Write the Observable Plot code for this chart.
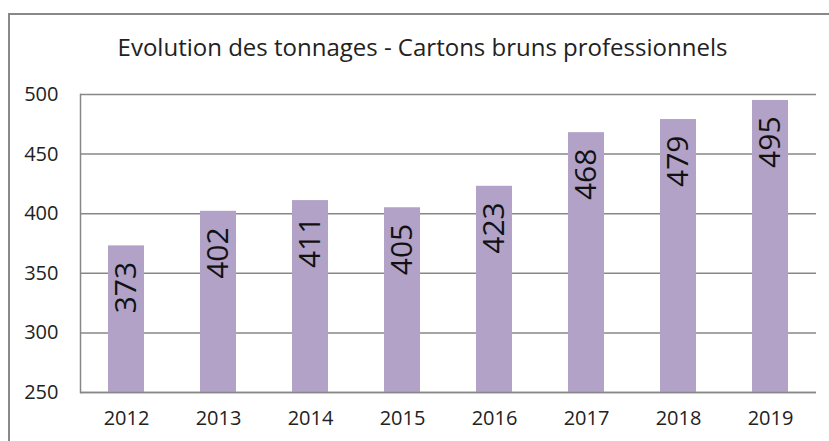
<!DOCTYPE html>
<html><head><meta charset="utf-8">
<script src="https://cdn.jsdelivr.net/npm/d3@7"></script>
<script src="https://cdn.jsdelivr.net/npm/@observablehq/plot@0.6"></script>
<style>
body{margin:0;background:#fff;font-family:"Open Sans",sans-serif;}
#frame{position:absolute;left:8px;top:13px;width:840px;height:460px;border-left:2px solid #888;border-top:2px solid #888;box-sizing:border-box;}
#title{position:absolute;left:0;top:30px;width:845px;text-align:center;font-size:24px;color:#222;}
#chart{position:absolute;left:0;top:80px;}
</style></head>
<body>
<div id="frame"></div>
<div id="title">Evolution des tonnages - Cartons bruns professionnels</div>
<div id="chart"></div>
<script>
const years = ["2012","2013","2014","2015","2016","2017","2018","2019"];
const tonnages = [373, 402, 411, 405, 423, 468, 479, 495];
const yTicks = [250, 300, 350, 400, 450, 500];
const data = years.map((y, i) => ({year: y, value: tonnages[i]}));

const chart = Plot.plot({
  width: 829,
  height: 361,
  marginTop: 14,
  marginBottom: 49,
  marginLeft: 80,
  marginRight: 13,
  style: {fontFamily: "Open Sans, sans-serif", fontSize: "20px", color: "#222", background: "transparent"},
  x: {domain: years, paddingInner: 0.61, paddingOuter: 0.305, label: null},
  y: {domain: [250, 500], label: null},
  marks: [
    Plot.gridY(yTicks, {stroke: "#878787", strokeOpacity: 1, strokeWidth: 1.5}),
    Plot.barY(data, {x: "year", y1: 250, y2: "value", fill: "#b2a2c7"}),
    Plot.ruleY([250], {stroke: "#878787", strokeWidth: 1.5}),
    Plot.frame({anchor: "left", stroke: "#878787", strokeWidth: 1.5}),
    Plot.axisY(yTicks, {tickSize: 0, tickPadding: 22, fontSize: 20, fill: "#222", label: null}),
    Plot.axisX({tickSize: 0, tickPadding: 18, fontSize: 20, fill: "#222", label: null}),
    Plot.text(data, {x: "year", y: "value", text: d => String(d.value), rotate: -90, textAnchor: "end", lineAnchor: "middle", dy: 16, fontSize: 30, fill: "#111"})
  ]
});
document.getElementById("chart").appendChild(chart);
</script>
</body></html>
